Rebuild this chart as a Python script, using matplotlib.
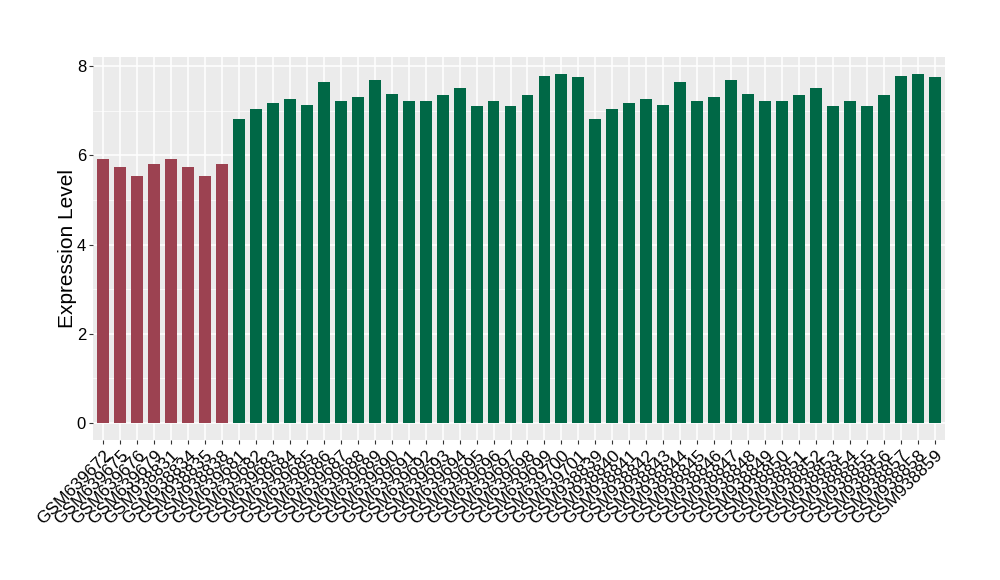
import matplotlib
matplotlib.use('Agg')
import matplotlib.pyplot as plt

plt.rcParams['font.family'] = ['Liberation Sans', 'DejaVu Sans']

samples = ['GSM639672', 'GSM639675', 'GSM639676', 'GSM639679', 'GSM938831',
           'GSM938834', 'GSM938835', 'GSM938838'] + \
          ['GSM6396%02d' % n for n in range(81, 100)] + ['GSM639700', 'GSM639701'] + \
          ['GSM9388%02d' % n for n in range(39, 60)]

red_values = [5.91, 5.73, 5.53, 5.80, 5.91, 5.73, 5.53, 5.80]
green_values = [6.81, 7.05, 7.17, 7.26, 7.14, 7.64, 7.23, 7.32, 7.68, 7.37, 7.21,
                7.23, 7.35, 7.50, 7.10, 7.23, 7.10, 7.35, 7.79, 7.82, 7.75]
values = red_values + green_values + green_values

red = '#9c4251'
green = '#006846'
colors = [red] * len(red_values) + [green] * (len(green_values) * 2)

fig = plt.figure(figsize=(10, 5.8), dpi=100)
ax = fig.add_axes([0.093, 0.241, 0.852, 0.661])
ax.set_facecolor('#EBEBEB')

x = list(range(len(values)))
ax.bar(x, values, width=0.7, color=colors, zorder=3)

ax.set_xlim(-0.6, len(values) - 0.4)
ax.set_ylim(-0.39, 8.21)
ax.set_yticks([0, 2, 4, 6, 8])
ax.set_yticks([1, 3, 5, 7], minor=True)
ax.set_xticks(x)
ax.set_xticklabels(samples, rotation=45, ha='right', va='top',
                   rotation_mode='anchor', fontsize=12.5)
ax.tick_params(axis='y', labelsize=12, colors='#333333', length=3, width=0.8, pad=2)
ax.tick_params(axis='y', which='minor', length=0)
ax.tick_params(axis='x', colors='#333333', length=3, width=0.8, pad=2)
for lab in ax.get_xticklabels() + ax.get_yticklabels():
    lab.set_color('black')

ax.grid(True, which='major', color='white', linewidth=1.1, zorder=0)
ax.grid(True, which='minor', axis='y', color='white', linewidth=0.5, zorder=0)
for s in ax.spines.values():
    s.set_visible(False)

ax.set_ylabel('Expression Level', fontsize=15, labelpad=0)

fig.savefig('out.png', dpi=100)
